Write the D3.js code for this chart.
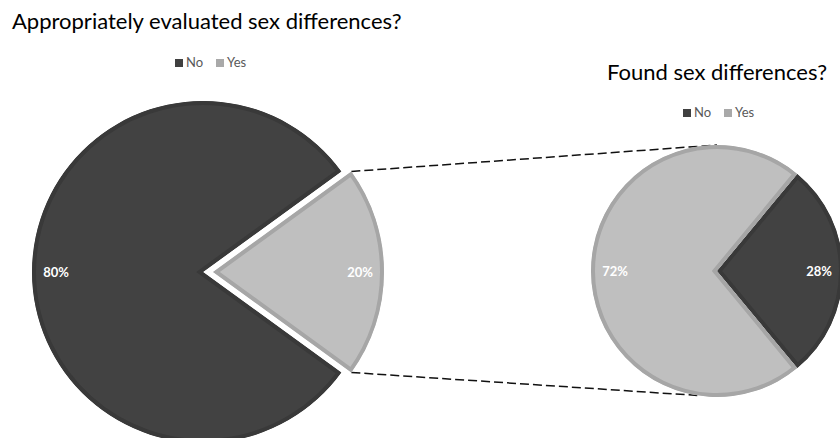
<!DOCTYPE html>
<html>
  <meta charset="utf-8" />
  <head>
    <script src="https://d3js.org/d3.v7.min.js"></script>
    <style>
      body {
        margin: 0;
        background: #fff;
      }
      text {
        font-family: Lato, "Open Sans", sans-serif;
      }
    </style>
  </head>
  <body>
    <svg id="chart" width="840" height="438"></svg>

    <script>
      // data
      const categories = ["No", "Yes"];
      const evaluated = [80, 20]; // appropriately evaluated sex differences?
      const found = [28, 72]; // found sex differences? (of the 20%)
      const titles = ["Appropriately evaluated sex differences?", "Found sex differences?"];

      const fills = d3.scaleOrdinal().domain(categories).range(["#424242", "#bfbfbf"]);
      const borders = d3.scaleOrdinal().domain(categories).range(["#393939", "#a6a6a6"]);
      const swatch = d3.scaleOrdinal().domain(categories).range(["#404040", "#a9a9a9"]);

      const svg = d3.select("#chart");
      const defs = svg.append("defs");
      const rad = (deg) => (deg * Math.PI) / 180;

      // main pie
      const main = { id: "m", cx: 203, cy: 272, r: 171, explode: 10 };
      // secondary pie
      const sub = { id: "s", cx: 717, cy: 271, r: 126, explode: 0 };

      const pieMain = d3
        .pie()
        .sort(null)
        .value((d) => d)
        .startAngle(rad(90 + (evaluated[1] / 100) * 180))
        .endAngle(rad(90 + (evaluated[1] / 100) * 180) + 2 * Math.PI);

      const pieSub = d3
        .pie()
        .sort(null)
        .value((d) => d)
        .startAngle(rad(90 - (found[0] / 100) * 180))
        .endAngle(rad(90 - (found[0] / 100) * 180) + 2 * Math.PI);

      function drawPie(conf, pie, values, explodeIndex) {
        const g = svg.append("g").attr("transform", `translate(${conf.cx},${conf.cy})`);
        const arcs = pie(values);
        const arc = d3.arc().innerRadius(0).outerRadius(conf.r);

        // clip each slice to itself so the border sits inside
        arcs.forEach((d, i) => {
          defs
            .append("clipPath")
            .attr("id", `clip-${conf.id}-${i}`)
            .append("path")
            .attr("d", arc(d));
        });

        const slice = g
          .selectAll("g.slice")
          .data(arcs)
          .enter()
          .append("g")
          .attr("class", "slice")
          .attr("transform", (d, i) => {
            if (i !== explodeIndex) return null;
            const a = (d.startAngle + d.endAngle) / 2;
            return `translate(${Math.sin(a) * conf.explode},${-Math.cos(a) * conf.explode})`;
          });

        slice
          .append("path")
          .attr("d", arc)
          .attr("clip-path", (d, i) => `url(#clip-${conf.id}-${i})`)
          .attr("fill", (d, i) => fills(categories[i]))
          .attr("stroke", (d, i) => borders(categories[i]))
          .attr("stroke-width", 8)
          .attr("stroke-linejoin", "miter");

        slice
          .append("text")
          .attr("transform", (d) => {
            const a = (d.startAngle + d.endAngle) / 2;
            const rr = conf.r - 24;
            return `translate(${Math.sin(a) * rr},${-Math.cos(a) * rr})`;
          })
          .attr("text-anchor", "middle")
          .attr("dy", "0.35em")
          .attr("fill", "#fff")
          .attr("font-weight", "bold")
          .attr("font-size", 13)
          .text((d) => d.data + "%");

        return { g, arcs };
      }

      // connector lines from exploded slice to the secondary pie
      const mainArcs = pieMain(evaluated);
      const yes = mainArcs[1];
      const mid = (yes.startAngle + yes.endAngle) / 2;
      const ox = main.cx + Math.sin(mid) * main.explode;
      const oy = main.cy - Math.cos(mid) * main.explode;
      const topStart = [ox + Math.sin(yes.startAngle) * main.r, oy - Math.cos(yes.startAngle) * main.r];
      const botStart = [ox + Math.sin(yes.endAngle) * main.r, oy - Math.cos(yes.endAngle) * main.r];
      const topEnd = [sub.cx + Math.sin(rad(0)) * sub.r, sub.cy - Math.cos(rad(0)) * sub.r];
      const botEnd = [sub.cx + Math.sin(rad(189)) * sub.r, sub.cy - Math.cos(rad(189)) * sub.r];

      svg
        .selectAll("line.connector")
        .data([
          [topStart, topEnd],
          [botStart, botEnd],
        ])
        .enter()
        .append("line")
        .attr("class", "connector")
        .attr("x1", (d) => d[0][0])
        .attr("y1", (d) => d[0][1])
        .attr("x2", (d) => d[1][0])
        .attr("y2", (d) => d[1][1])
        .attr("stroke", "#111")
        .attr("stroke-width", 1.5)
        .attr("stroke-dasharray", "9,4");

      drawPie(main, pieMain, evaluated, 1);
      drawPie(sub, pieSub, found, -1);

      // titles
      svg
        .append("text")
        .attr("x", 12)
        .attr("y", 29)
        .attr("font-size", 22)
        .attr("fill", "#000")
        .text(titles[0]);

      svg
        .append("text")
        .attr("x", 607)
        .attr("y", 80)
        .attr("font-size", 22)
        .attr("fill", "#000")
        .text(titles[1]);

      // legends
      function legend(x, y) {
        const lg = svg.append("g").attr("transform", `translate(${x},${y})`);
        const offsets = [0, 41];
        categories.forEach((c, i) => {
          lg.append("rect")
            .attr("x", offsets[i])
            .attr("y", -8)
            .attr("width", 8)
            .attr("height", 8)
            .attr("fill", swatch(c));
          lg.append("text")
            .attr("x", offsets[i] + 11)
            .attr("y", 0)
            .attr("font-size", 13)
            .attr("fill", "#595959")
            .text(c);
        });
      }
      legend(175, 67);
      legend(683, 117);
    </script>
  </body>
</html>
